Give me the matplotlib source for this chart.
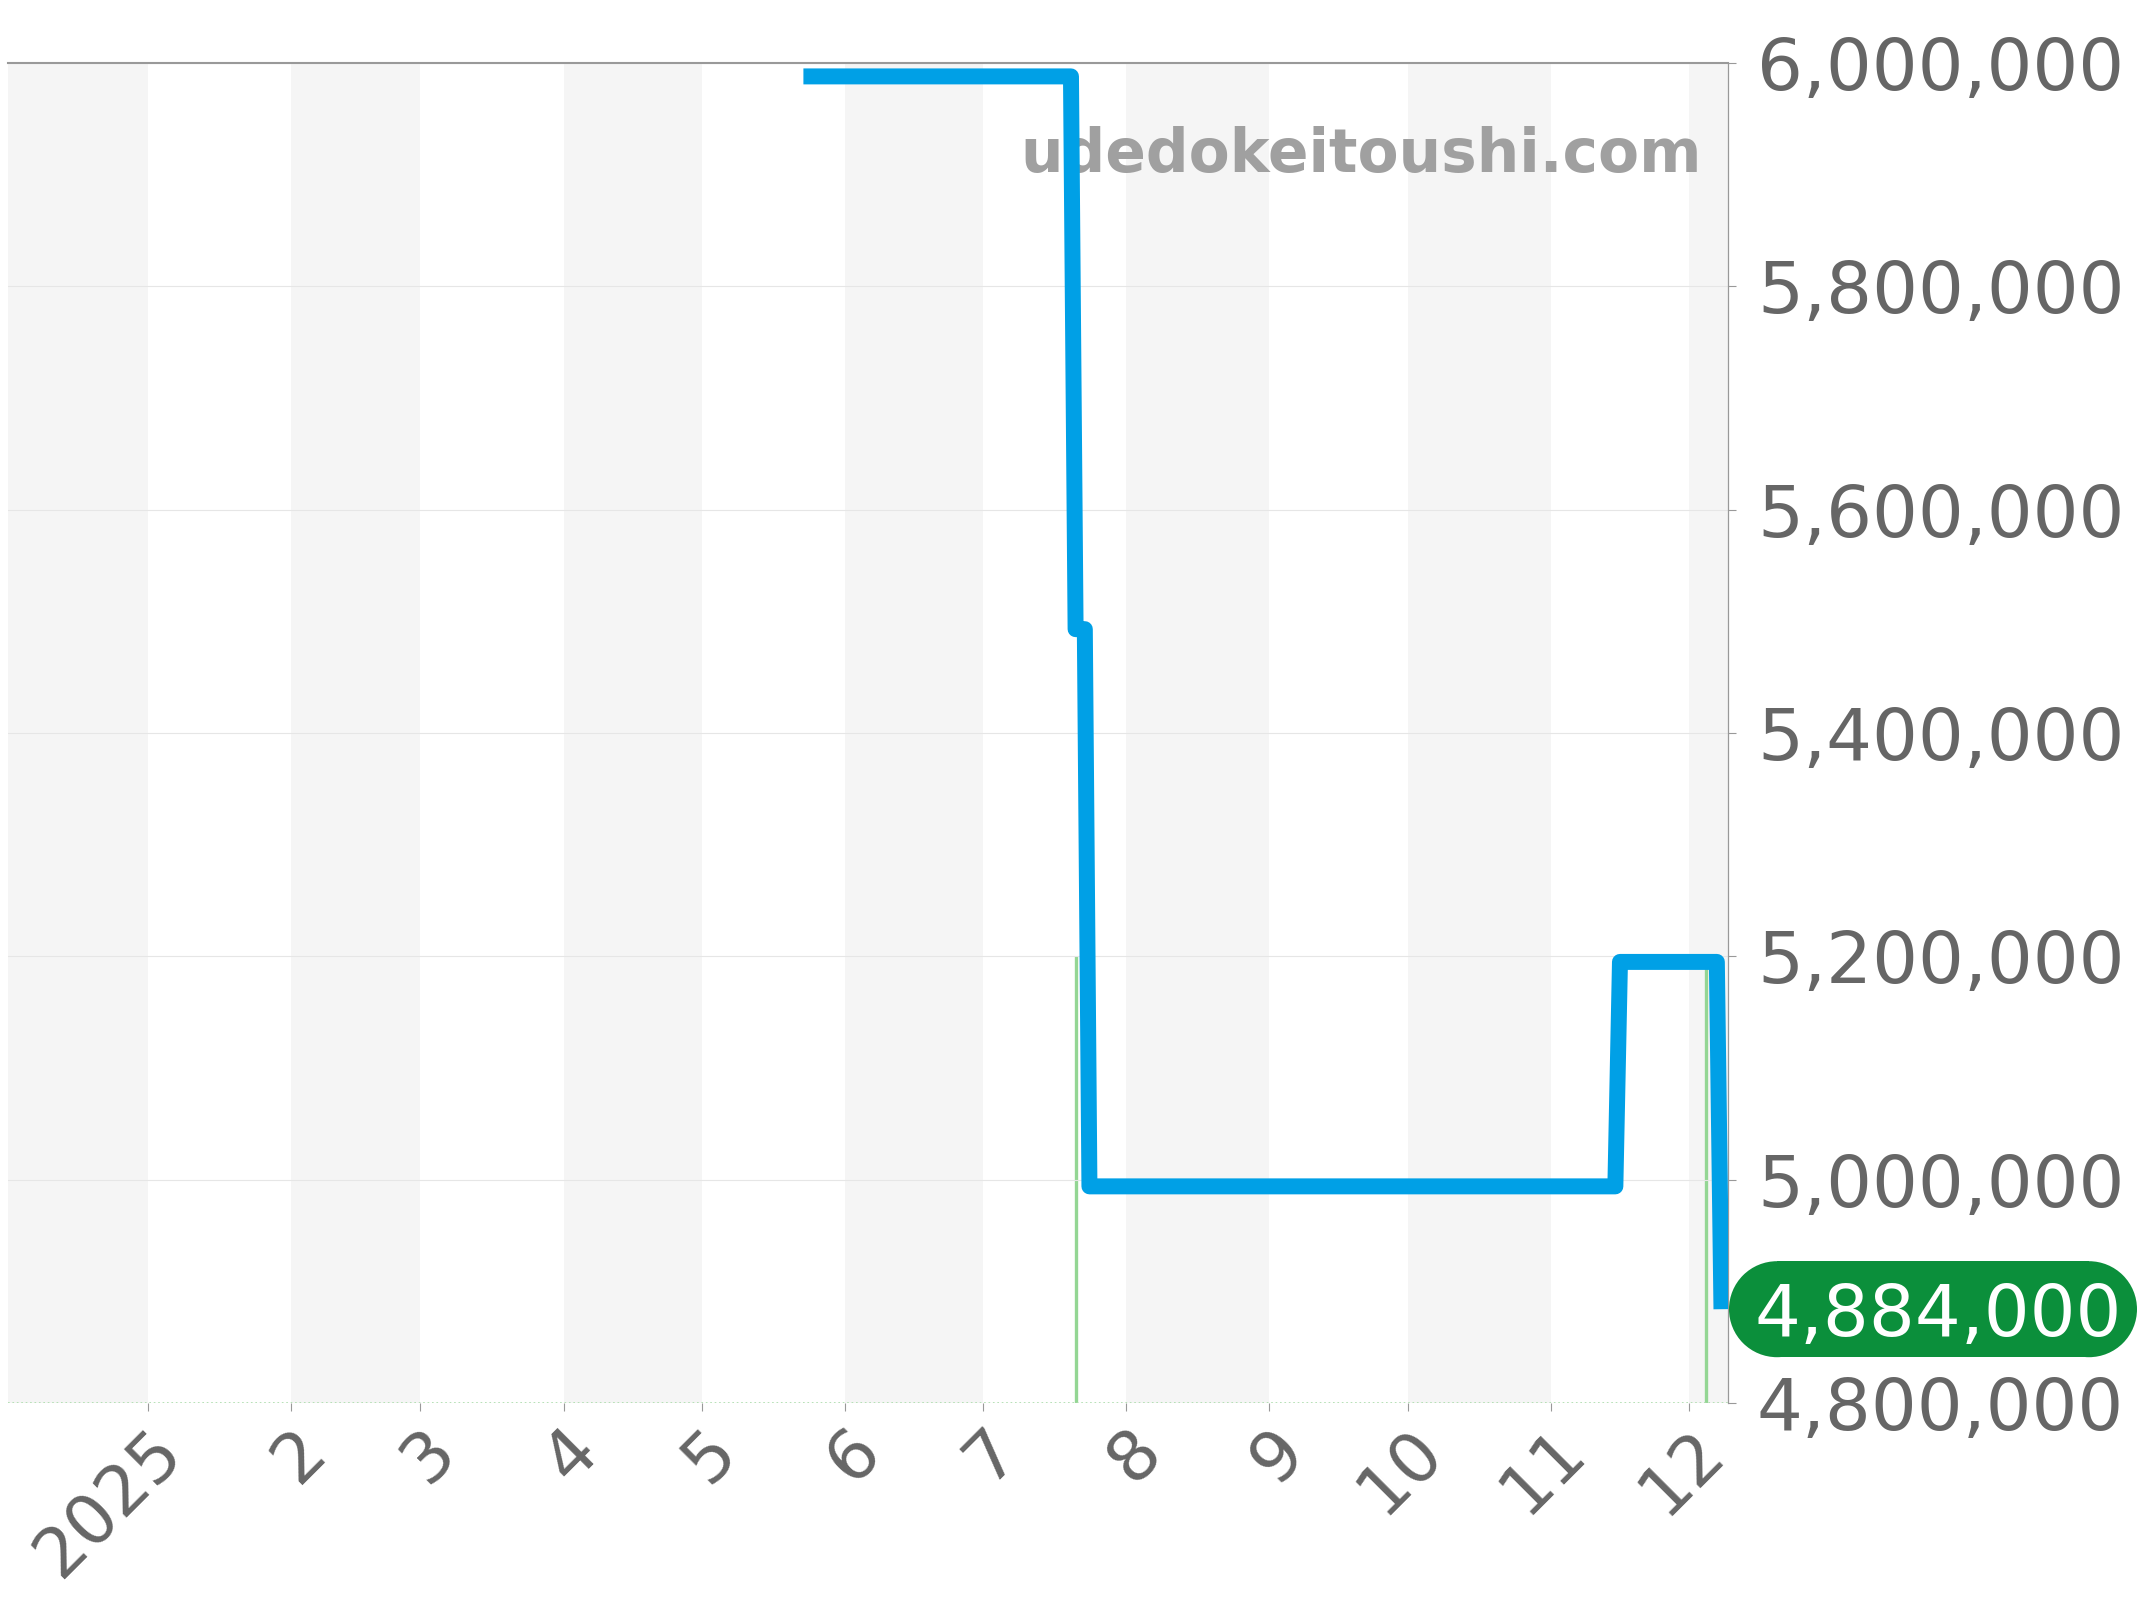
import matplotlib
matplotlib.use("Agg")
import matplotlib.pyplot as plt
import matplotlib.dates as mdates
import matplotlib.patches as mpatches
from matplotlib.transforms import IdentityTransform
import pandas as pd

# price history (step points)
price_dates = ["2025-05-23", "2025-07-20", "2025-07-21", "2025-07-23", "2025-07-24",
               "2025-11-15", "2025-11-16", "2025-12-07", "2025-12-08"]
price_values = [5988000, 5988000, 5493000, 5493000, 4994000,
                4994000, 5195000, 5195000, 4884000]

# listing volume bars
volume_dates = ["2025-07-21 00:00", "2025-12-04 18:00"]
volume_values = [1, 1]

month_ticks = pd.date_range("2025-01-01", "2025-12-01", freq="MS")
month_labels = ["2025", "2", "3", "4", "5", "6", "7", "8", "9", "10", "11", "12"]
shade_starts = ["2024-12-01", "2025-02-01", "2025-04-01", "2025-06-01",
                "2025-08-01", "2025-10-01", "2025-12-01"]

y_ticks = [4800000, 5000000, 5200000, 5400000, 5600000, 5800000, 6000000]
latest_price = 4884000

price_dates = pd.to_datetime(price_dates)
volume_dates = pd.to_datetime(volume_dates, format="%Y-%m-%d %H:%M")

fig = plt.figure(figsize=(21.44, 16), dpi=100)
axv = fig.add_axes([7.6 / 2144, 197 / 1600, (1728 - 7.6) / 2144, 1340 / 1600])
ax = axv.twinx()

x0 = pd.Timestamp("2024-12-01 12:00")
x1 = pd.Timestamp("2025-12-09 10:00")

# alternating month shading
for s in shade_starts:
    s = pd.Timestamp(s)
    e = s + pd.offsets.MonthBegin(1)
    axv.axvspan(s, e, color="#f5f5f5", lw=0, zorder=0)

# volume on the bottom axis
axv.vlines(volume_dates, 0, volume_values, color="#94d694", lw=2.4, zorder=2)
axv.axhline(0, color="#a8dca8", lw=1.2, ls=":", zorder=2)
axv.set_ylim(0, 3)
axv.set_yticks([])
for sp in axv.spines.values():
    sp.set_visible(False)

# price line
ax.plot(price_dates, price_values, color="#00a0e6", lw=11.5,
        solid_joinstyle="round", solid_capstyle="butt", zorder=3)
ax.set_ylim(4800000, 6000000)
ax.set_yticks(y_ticks)
ax.set_yticklabels([f"{v:,}" for v in y_ticks])
ax.yaxis.grid(True, color="#e6e6e6", lw=0.8)
ax.set_axisbelow(True)
ax.tick_params(axis="y", right=True, left=False, labelright=True, labelleft=False,
               length=5.8, width=0.8, color="#999999", pad=15,
               labelsize=52, labelcolor="#666666")
for k in ["left", "bottom"]:
    ax.spines[k].set_visible(False)
ax.spines["top"].set_color("#999999")
ax.spines["top"].set_linewidth(1.5)
ax.spines["right"].set_color("#999999")
ax.spines["right"].set_linewidth(0.9)

axv.set_xlim(x0, x1)
ax.set_xlim(x0, x1)
axv.set_xticks(month_ticks)
axv.set_xticklabels(month_labels)
axv.tick_params(axis="x", length=5.8, width=0.8, color="#999999", pad=4,
                labelsize=50, labelcolor="#666666")
plt.setp(axv.get_xticklabels(), rotation=45, ha="right", va="top",
         rotation_mode="anchor")

# watermark
ax.text(0.985, 0.9187, "udedokeitoushi.com", transform=ax.transAxes,
        ha="right", va="baseline", fontsize=43, fontweight="bold",
        color="#a0a0a0", zorder=1)

# latest price tag: pill shape in pixel space next to the right spine
left_px = ax.transAxes.transform((1, 0))[0] + 1
yc = ax.transData.transform((mdates.date2num(x0), latest_price))[1]
r, w = 48, 408
tag = "#0b8f3b"
fig.add_artist(mpatches.Rectangle((left_px + r, yc - r), w - 2 * r, 2 * r,
                                  transform=IdentityTransform(), fc=tag, ec="none", zorder=5))
fig.add_artist(mpatches.Circle((left_px + r, yc), r, transform=IdentityTransform(),
                               fc=tag, ec="none", zorder=5))
fig.add_artist(mpatches.Circle((left_px + w - r, yc), r, transform=IdentityTransform(),
                               fc=tag, ec="none", zorder=5))
fig.text(left_px + 25, yc, f"{latest_price:,}", transform=IdentityTransform(),
         ha="left", va="center_baseline", fontsize=52, color="white", zorder=6)

fig.savefig("out.png", dpi=100)
plt.close(fig)
